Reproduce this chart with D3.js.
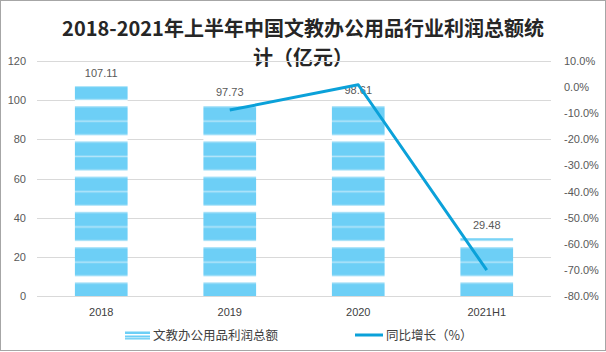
<!DOCTYPE html>
<html>
<head>
<meta charset="utf-8">
<script src="https://cdn.jsdelivr.net/npm/d3@7"></script>
<style>
  body { margin: 0; background: #fff; }
  text { font-family: "Liberation Sans", "Noto Sans CJK SC", sans-serif; }
</style>
</head>
<body>
<div id="chart"></div>
<script>
// data
var categories = ["2018", "2019", "2020", "2021H1"];
var profit = [107.11, 97.73, 98.61, 29.48];       // 亿元
var growth = [null, -8.8, 0.9, -70.1];            // %
var leftTicks = [0, 20, 40, 60, 80, 100, 120];
var rightTicks = [-80, -70, -60, -50, -40, -30, -20, -10, 0, 10];

var svgWidth = 606, svgHeight = 352;
var margin = { top: 61, right: 55, bottom: 56, left: 37 };
var width = svgWidth - margin.left - margin.right;
var height = svgHeight - margin.top - margin.bottom;

var barBlue = "#6dcff6", pale = "#b4e5f9", lineBlue = "#0ba1d9";

var svg = d3.select("#chart")
    .append("svg")
    .attr("width", svgWidth)
    .attr("height", svgHeight);

// outer frame
svg.append("rect")
    .attr("x", 0.5).attr("y", 0.5)
    .attr("width", svgWidth - 1).attr("height", svgHeight - 2)
    .attr("fill", "none")
    .attr("stroke", "#a6a6a6");

// title
var title = svg.append("text")
    .attr("text-anchor", "middle")
    .style("font-family", "'Noto Sans CJK SC', sans-serif")
    .style("font-size", "20px")
    .style("font-weight", "bold")
    .attr("fill", "#262626");
title.append("tspan").attr("x", 303).attr("y", 36).text("2018-2021年上半年中国文教办公用品行业利润总额统");
title.append("tspan").attr("x", 303).attr("y", 65).text("计（亿元）");

var g = svg.append("g")
    .attr("transform", "translate(" + margin.left + "," + margin.top + ")");

var xScale = d3.scaleBand()
    .range([0, width])
    .domain(categories)
    .padding(0);

var yLeft = d3.scaleLinear().range([height, 0]).domain([0, 120]);
var yRight = d3.scaleLinear().range([height, 0]).domain([-80, 10]);

// striped fill, aligned to the plot, not to each bar
var period = yLeft(0) - yLeft(18);
var defs = svg.append("defs");
var pat = defs.append("pattern")
    .attr("id", "stripes")
    .attr("patternUnits", "userSpaceOnUse")
    .attr("x", 0)
    .attr("y", yLeft(100))
    .attr("width", 10)
    .attr("height", period);
pat.append("rect").attr("width", 10).attr("height", period).attr("fill", barBlue);
pat.append("rect").attr("width", 10).attr("height", 6).attr("fill", "#fff");
pat.append("rect").attr("y", 6).attr("width", 10).attr("height", 1.2).attr("fill", pale);
pat.append("rect").attr("y", 20.2).attr("width", 10).attr("height", 1.6).attr("fill", pale);
pat.append("rect").attr("y", period - 1.2).attr("width", 10).attr("height", 1.2).attr("fill", pale);

// grid
g.selectAll(".grid")
    .data(leftTicks)
    .enter().append("line")
    .attr("class", "grid")
    .attr("x1", 0).attr("x2", width)
    .attr("y1", d => Math.round(yLeft(d)) + 0.5)
    .attr("y2", d => Math.round(yLeft(d)) + 0.5)
    .attr("stroke", "#d9d9d9");

// axes
var axL = g.append("g")
    .call(d3.axisLeft(yLeft).tickValues(leftTicks).tickSize(0).tickPadding(11));
axL.select(".domain").remove();
axL.selectAll("text").style("font-size", "11px").attr("fill", "#595959");

var axR = g.append("g")
    .attr("transform", "translate(" + width + ",0)")
    .call(d3.axisRight(yRight).tickValues(rightTicks).tickSize(0).tickPadding(13)
        .tickFormat(d => d.toFixed(1) + "%"));
axR.select(".domain").remove();
axR.selectAll("text").style("font-size", "11px").attr("fill", "#595959");

var axB = g.append("g")
    .attr("transform", "translate(0," + height + ")")
    .call(d3.axisBottom(xScale).tickSize(0).tickPadding(12));
axB.select(".domain").remove();
axB.selectAll("text").style("font-size", "11px").attr("fill", "#404040");

// bars
var barW = xScale.bandwidth() * 0.41;
var bars = profit.map((v, i) => ({ name: categories[i], value: v }));

g.selectAll(".bar")
    .data(bars)
    .enter().append("rect")
    .attr("class", "bar")
    .attr("x", d => xScale(d.name) + (xScale.bandwidth() - barW) / 2)
    .attr("y", d => yLeft(d.value))
    .attr("width", barW)
    .attr("height", d => yLeft(0) - yLeft(d.value))
    .attr("fill", "url(#stripes)");

g.selectAll(".barlabel")
    .data(bars)
    .enter().append("text")
    .attr("class", "barlabel")
    .attr("x", d => xScale(d.name) + xScale.bandwidth() / 2)
    .attr("y", d => yLeft(d.value) - 9)
    .attr("text-anchor", "middle")
    .style("font-size", "11px")
    .attr("fill", "#595959")
    .text(d => d.value.toFixed(2));

// growth line
var linePts = growth.map((v, i) => ({ name: categories[i], value: v })).filter(d => d.value !== null);
var line = d3.line()
    .x(d => xScale(d.name) + xScale.bandwidth() / 2)
    .y(d => yRight(d.value));

g.append("path")
    .datum(linePts)
    .attr("d", line)
    .attr("fill", "none")
    .attr("stroke", lineBlue)
    .attr("stroke-width", 3)
    .attr("stroke-linejoin", "round");

// legend
var lg = svg.append("g");
lg.append("rect").attr("x", 125).attr("y", 331.5).attr("width", 25).attr("height", 8).attr("fill", barBlue);
lg.append("rect").attr("x", 125).attr("y", 334).attr("width", 25).attr("height", 1.5).attr("fill", "#fff");
lg.append("rect").attr("x", 125).attr("y", 337).attr("width", 25).attr("height", 1.2).attr("fill", pale);
lg.append("text").attr("x", 153).attr("y", 339.5)
    .style("font-family", "'Noto Sans CJK SC', sans-serif")
    .style("font-size", "12.5px").attr("fill", "#404040")
    .text("文教办公用品利润总额");

lg.append("line").attr("x1", 355).attr("x2", 383).attr("y1", 335).attr("y2", 335)
    .attr("stroke", lineBlue).attr("stroke-width", 3);
lg.append("text").attr("x", 386).attr("y", 339.5)
    .style("font-family", "'Noto Sans CJK SC', sans-serif")
    .style("font-size", "12.5px").attr("fill", "#404040")
    .text("同比增长（%）");
</script>
</body>
</html>
